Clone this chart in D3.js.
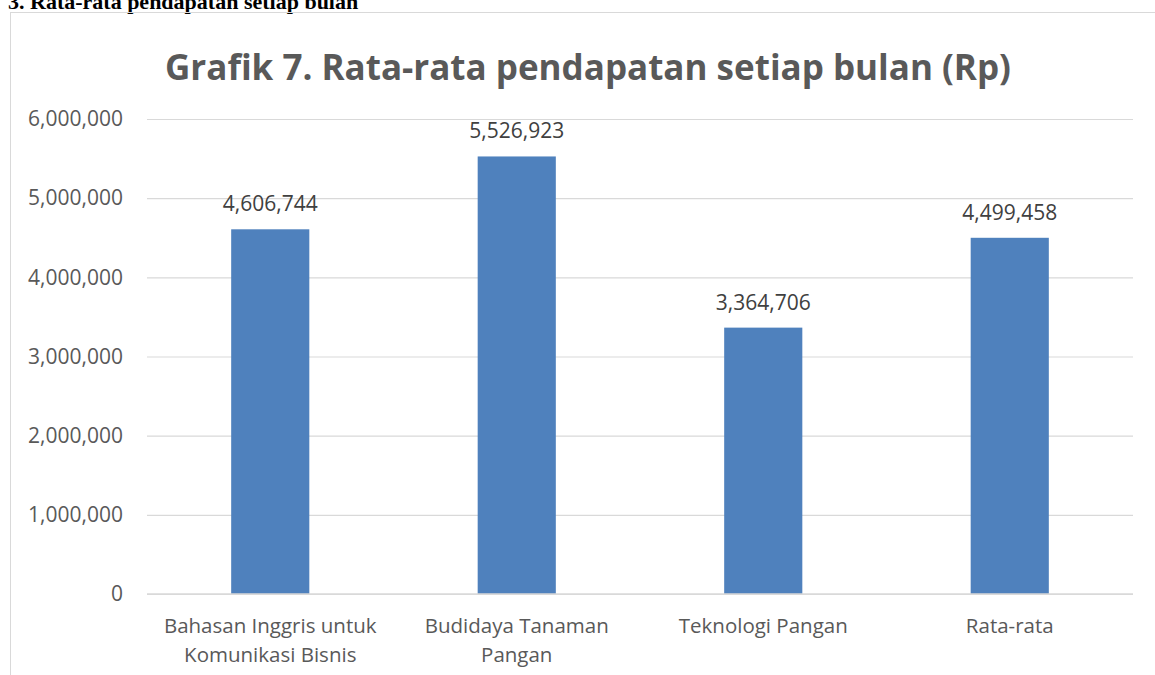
<!DOCTYPE html>
<html>
<head>
<meta charset="utf-8">
<script src="https://cdn.jsdelivr.net/npm/d3@7"></script>
<style>
  html, body { margin: 0; padding: 0; background: #fff; }
  svg { display: block; }
</style>
</head>
<body>
<div id="chart"></div>
<script>
// Rata-rata pendapatan setiap bulan, per program studi
const categories = [
  ['Bahasan Inggris untuk', 'Komunikasi Bisnis'],
  ['Budidaya Tanaman', 'Pangan'],
  ['Teknologi Pangan'],
  ['Rata-rata']
];
const values = [4606744, 5526923, 3364706, 4499458];
const yTicks = [0, 1000000, 2000000, 3000000, 4000000, 5000000, 6000000];

const width = 1155, height = 675;
const margin = { top: 119, right: 22, bottom: 81, left: 147 };
const font = '"Open Sans", "Liberation Sans", sans-serif';

const svg = d3.select('#chart').append('svg')
  .attr('width', width).attr('height', height);

// heading of the document page, cut at the top as in the scan
svg.append('text')
  .attr('x', 8).attr('y', 9)
  .attr('font-family', '"Liberation Serif", "Times New Roman", serif')
  .attr('font-weight', 'bold').attr('font-size', 22)
  .attr('fill', '#000')
  .text('3. Rata-rata pendapatan setiap bulan');

// chart box
svg.append('rect')
  .attr('x', 10.5).attr('y', 12.5)
  .attr('width', 1160).attr('height', 700)
  .attr('fill', 'none').attr('stroke', '#d9d9d9');

const keys = categories.map(c => c.join(' '));
const x = d3.scaleBand()
  .domain(keys)
  .range([margin.left, width - margin.right])
  .paddingInner(0.683).paddingOuter(0.3415);
const y = d3.scaleLinear()
  .domain([0, 6000000])
  .range([height - margin.bottom, margin.top]);

const fmt = d3.format(',');

// gridlines + y labels
const yAxis = svg.append('g')
  .attr('transform', `translate(${margin.left},0)`)
  .call(d3.axisLeft(y).tickValues(yTicks).tickFormat(fmt)
    .tickSize(-(width - margin.left - margin.right)).tickPadding(24))
  .call(g => g.select('.domain').remove());
yAxis.selectAll('.tick line').attr('stroke', '#d9d9d9').attr('stroke-width', 1.2);
yAxis.selectAll('.tick text')
  .attr('font-family', font).attr('font-size', 21)
  .attr('fill', '#595959');

// bars
svg.append('g')
  .selectAll('rect')
  .data(values)
  .join('rect')
  .attr('x', (d, i) => x(keys[i]))
  .attr('y', d => y(d))
  .attr('width', x.bandwidth())
  .attr('height', d => y(0) - y(d))
  .attr('fill', '#4f81bd');

// x axis (baseline drawn over bars)
svg.append('line')
  .attr('x1', margin.left).attr('x2', width - margin.right)
  .attr('y1', y(0)).attr('y2', y(0))
  .attr('stroke', '#d9d9d9').attr('stroke-width', 1.5);

// value labels
svg.append('g')
  .selectAll('text')
  .data(values)
  .join('text')
  .attr('x', (d, i) => x(keys[i]) + x.bandwidth() / 2)
  .attr('y', d => y(d) - 18)
  .attr('text-anchor', 'middle')
  .attr('font-family', font).attr('font-size', 21)
  .attr('fill', '#404040')
  .text(d => fmt(d));

// category labels
const cat = svg.append('g')
  .selectAll('text')
  .data(categories)
  .join('text')
  .attr('x', (d, i) => x(keys[i]) + x.bandwidth() / 2)
  .attr('y', y(0) + 39)
  .attr('text-anchor', 'middle')
  .attr('font-family', font).attr('font-size', 20.5)
  .attr('fill', '#595959');
cat.selectAll('tspan')
  .data(d => d)
  .join('tspan')
  .attr('x', function() { return this.parentNode.getAttribute('x'); })
  .attr('dy', (d, i) => i === 0 ? 0 : 29)
  .text(d => d);

// chart title
const title = svg.append('text')
  .attr('x', 588).attr('y', 80)
  .attr('text-anchor', 'middle')
  .attr('font-family', font).attr('font-weight', 'bold')
  .attr('font-size', 34)
  .attr('fill', '#595959')
  .text('Grafik 7. Rata-rata pendapatan setiap bulan (Rp)');
// fit the title to the width it takes in the reference
const tw = title.node().getComputedTextLength();
title.attr('font-size', 34 * 846 / tw);
</script>
</body>
</html>
